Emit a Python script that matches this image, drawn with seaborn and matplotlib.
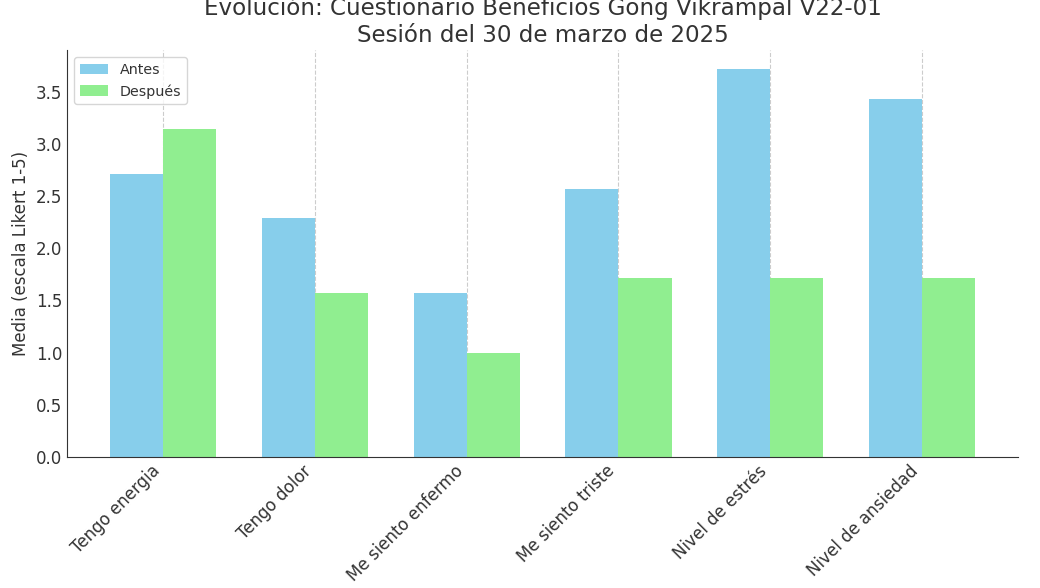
import matplotlib
matplotlib.use("Agg")
import matplotlib.pyplot as plt
import seaborn as sns
import pandas as pd

# datos
items = ["Tengo energia", "Tengo dolor", "Me siento enfermo",
         "Me siento triste", "Nivel de estrés", "Nivel de ansiedad"]
antes = [2.714, 2.286, 1.571, 2.571, 3.714, 3.429]
despues = [3.143, 1.571, 1.000, 1.714, 1.714, 1.714]

df = pd.DataFrame({
    "item": items * 2,
    "media": antes + despues,
    "momento": ["Antes"] * len(items) + ["Después"] * len(items),
})

sns.set_style("white")
plt.rcParams["font.family"] = ["DejaVu Sans"]
plt.rcParams["text.color"] = "#333333"
plt.rcParams["axes.labelcolor"] = "#333333"
plt.rcParams["xtick.color"] = "#333333"
plt.rcParams["ytick.color"] = "#333333"

fig = plt.figure(figsize=(10.4, 5.88), dpi=100)
ax = fig.add_axes([0.0644, 0.2228, 0.9146, 0.6922])

sns.barplot(data=df, x="item", y="media", hue="momento",
            palette={"Antes": "skyblue", "Después": "lightgreen"},
            width=0.7, gap=0, errorbar=None, saturation=1,
            linewidth=0, edgecolor="none", ax=ax, zorder=2)

ax.set_xlim(-0.635, 5.635)
ax.set_ylim(0, 3.9)
ax.grid(axis="x", linestyle="--", color="#cccccc", linewidth=0.8, zorder=0)
ax.set_axisbelow(True)
sns.despine(ax=ax)
ax.spines["left"].set_color("#333333")
ax.spines["bottom"].set_color("#333333")

ax.tick_params(axis="both", direction="in", length=4, labelsize=12)
plt.setp(ax.get_xticklabels(), rotation=45, ha="right")
ax.set_xlabel("")
ax.set_ylabel("Media (escala Likert 1-5)", fontsize=12)
ax.set_title("Evolución: Cuestionario Beneficios Gong Vikrampal V22-01\n"
             "Sesión del 30 de marzo de 2025", fontsize=16.6, pad=6)

leg = ax.legend(loc="upper left", fontsize=10.3, frameon=True)
leg.set_title(None)

fig.savefig("out.png", dpi=100)
